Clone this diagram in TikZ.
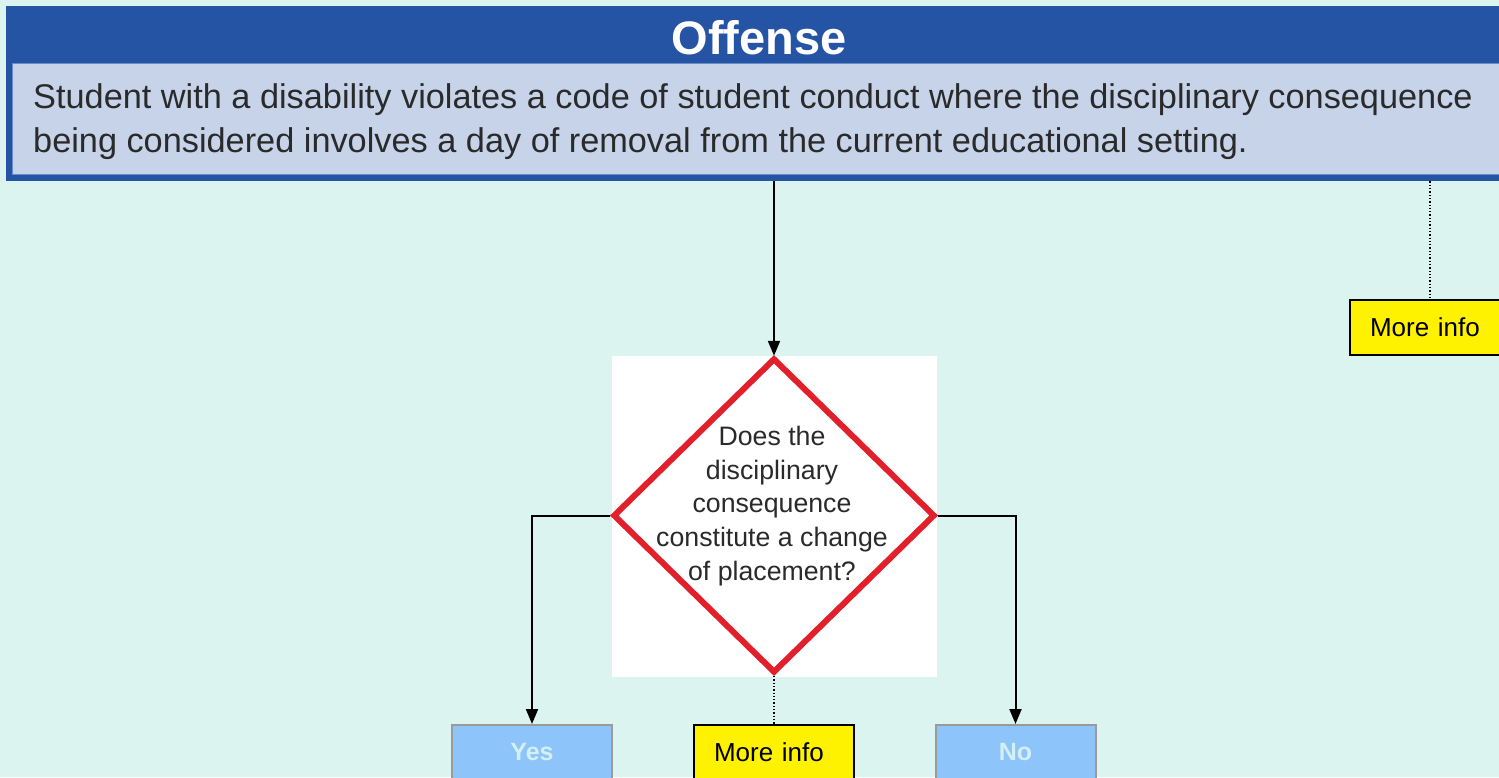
\documentclass[tikz,border=0pt]{standalone}
\usepackage{fontspec}
\setmainfont{Liberation Sans}
\usetikzlibrary{shapes.geometric,arrows.meta}
\definecolor{bgc}{HTML}{DCF4F0}
\definecolor{hdrblue}{HTML}{2654A4}
\definecolor{bodyfill}{HTML}{C6D3E9}
\definecolor{bodyline}{HTML}{6A8CC8}
\definecolor{txt}{HTML}{2A2A2A}
\definecolor{diared}{HTML}{E2202B}
\definecolor{ansfill}{HTML}{8DC4FA}
\definecolor{anstext}{HTML}{D5EFF6}
\definecolor{ansline}{HTML}{9A9A9A}
\tikzset{
  infobox/.style={draw=black, line width=2.5pt, fill=yellow, minimum width=160pt, minimum height=55pt, inner sep=0pt, text width=120pt, align=left, font=\fontsize{26}{30}\selectfont},
  ansbox/.style={draw=ansline, line width=2pt, fill=ansfill, minimum width=160pt, minimum height=55pt, inner sep=0pt, text=anstext, font=\bfseries\fontsize{25}{30}\selectfont},
  flow/.style={draw=black, line width=2pt, -{Triangle[length=15pt,width=12pt]}},
  link/.style={draw=black, line width=1.3pt, dotted},
}
\begin{document}
\begin{tikzpicture}[x=1pt,y=-1pt]
\useasboundingbox[fill=bgc] (0,0) rectangle (1499,777);
\clip (0,0) rectangle (1499,777);
% header
\node[fill=hdrblue, anchor=north west, minimum width=1510pt, minimum height=175pt, inner sep=0pt] (hdr) at (6,6) {};
\node[text=white, font=\bfseries\fontsize{47}{50}\selectfont, inner sep=0pt] (title) at (759,38) {Offense};
\node[fill=bodyfill, draw=bodyline, line width=1pt, anchor=north west, minimum width=1500pt, minimum height=111pt, inner sep=0pt] (body) at (12,63) {};
\node[text=txt, anchor=base west, align=left, inner sep=0pt, font=\fontsize{34.3}{44}\selectfont] (bodytext) at (33,152)
  {Student with a disability violates a code of student conduct where the disciplinary consequence\\being considered involves a day of removal from the current educational setting.};
% decision
\node[fill=white, minimum width=325pt, minimum height=321pt, inner sep=0pt] (qbg) at (774.5,516.5) {};
\node[diamond, draw=diared, line width=6pt, minimum width=322pt, minimum height=315pt, inner sep=0pt] (dia) at (774,515.5) {};
\node[text=txt, align=center, inner sep=0pt, font=\fontsize{26.7}{33.6}\selectfont] (q) at (772,506)
  {Does the\\disciplinary\\consequence\\constitute a change\\of placement?};
% boxes
\node[infobox] (mi1) at (1430,327.5) {More info};
\node[infobox] (mi2) at (774,752.5) {More info};
\node[ansbox] (yes) at (532,752.5) {Yes};
\node[ansbox] (no) at (1015.5,752.5) {No};
% connectors
\draw[flow] (hdr.south -| dia.north) -- (qbg.north -| dia.north);
\draw[link] (hdr.south -| mi1.north) -- (mi1.north);
\draw[flow] (dia.west) -- (dia.west -| yes.north) -- (yes.north);
\draw[flow] (dia.east) -- (dia.east -| no.north) -- (no.north);
\draw[link] (dia.south) -- (mi2.north);
\end{tikzpicture}
\end{document}
